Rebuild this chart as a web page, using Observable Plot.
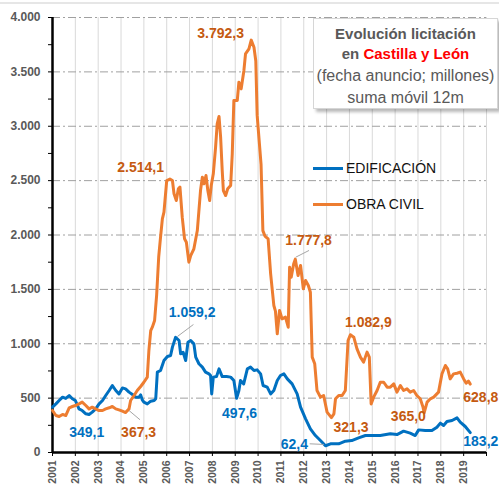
<!DOCTYPE html>
<html>
<head>
<meta charset="utf-8">
<script src="https://cdn.jsdelivr.net/npm/d3@7"></script>
<script src="https://cdn.jsdelivr.net/npm/@observablehq/plot@0.6"></script>
<style>
  html, body { margin: 0; padding: 0; background: #fff; }
  #wrap { position: relative; width: 499px; height: 485px; font-family: "Liberation Sans", Arial, sans-serif; }
  #topline { position: absolute; left: 0; top: 2px; width: 499px; height: 2px; background: #e6e6e6; }
  #titlebox { position: absolute; left: 313px; top: 18px; width: 183px; height: 89px; background: #fff;
    border: 1px solid #d6d6d6; box-shadow: 3px 3px 3px rgba(0,0,0,0.28); color: #595959; text-align: center; }
  #titlebox div { white-space: nowrap; }
  .t1 { font-weight: bold; font-size: 15px; height: 20px; line-height: 20px; }
  .t2 { font-size: 16px; height: 22px; line-height: 22px; }
  .red { color: #ff0000; }
  .leg { position: absolute; left: 313px; height: 20px; display: flex; align-items: center; font-size: 14px; color: #111; }
  .leg span.sw { display: inline-block; width: 30px; height: 3px; margin-right: 3px; }
</style>
</head>
<body>
<div id="wrap"></div>
<script>
// ---- data ----
const seriesNames = ["EDIFICACIÓN", "OBRA CIVIL"];
const seriesColors = ["#0070C0", "#ED7D31"];
const labelColors = ["#0070C0", "#C55A11"];

const edifYear = [2001.0,2001.15,2001.29,2001.44,2001.58,2001.73,2001.87,2002.0,2002.16,2002.3,2002.46,2002.6,2002.74,2002.89,
  2003.04,2003.19,2003.33,2003.48,2003.62,2003.77,2003.91,2004.06,2004.2,2004.35,2004.5,2004.64,2004.79,2004.86,2004.93,
  2005.0,2005.15,2005.3,2005.45,2005.52,2005.59,2005.73,2005.88,2006.03,2006.17,2006.25,2006.39,2006.54,2006.61,2006.72,
  2006.83,2006.93,2007.05,2007.19,2007.27,2007.41,2007.56,2007.7,2007.85,2007.92,2007.97,2008.04,2008.18,2008.29,2008.43,
  2008.62,2008.8,2008.94,2009.06,2009.16,2009.23,2009.37,2009.53,2009.67,2009.82,2009.96,2010.11,2010.22,2010.4,2010.55,
  2010.69,2010.84,2010.98,2011.13,2011.28,2011.49,2011.71,2011.86,2012.08,2012.29,2012.51,2012.73,2012.95,2013.17,2013.53,
  2013.82,2014.1,2014.4,2014.7,2014.98,2015.35,2015.79,2016.08,2016.37,2016.66,2016.88,2017.03,2017.32,2017.61,2017.83,
  2017.98,2018.12,2018.27,2018.49,2018.71,2018.85,2019.07,2019.29];
const edifValue = [417,447,478,509,497,524,494,478,401,386,356,349,371,401,
  447,478,524,570,616,570,539,594,585,555,533,509,509,530,484,
  463,447,472,478,494,739,754,846,883,892,969,1059,1030,907,922,
  846,1014,1030,999,877,816,785,739,723,708,539,693,698,769,698,
  698,693,662,498,570,662,631,769,785,754,760,723,616,601,539,
  570,662,708,723,677,631,539,417,310,218,156,110,62,80,80,
  104,110,135,156,156,156,172,165,196,178,156,208,202,202,233,
  270,248,285,294,319,279,239,183];

const obraYear = [2001.0,2001.15,2001.29,2001.44,2001.58,2001.73,2001.87,2002.0,2002.16,2002.3,2002.46,2002.6,2002.74,2002.89,
  2003.04,2003.19,2003.33,2003.48,2003.62,2003.77,2003.91,2004.06,2004.2,2004.35,2004.42,2004.57,2004.71,2004.86,2005.0,
  2005.15,2005.22,2005.3,2005.37,2005.47,2005.56,2005.65,2005.73,2005.81,2005.88,2006.0,2006.14,2006.25,2006.32,2006.42,
  2006.51,2006.58,2006.68,2006.78,2006.86,2006.97,2007.05,2007.19,2007.34,2007.48,2007.56,2007.63,2007.72,2007.8,2007.88,
  2007.95,2008.04,2008.14,2008.21,2008.29,2008.36,2008.43,2008.48,2008.58,2008.67,2008.8,2008.87,2008.94,2009.09,2009.16,
  2009.26,2009.38,2009.45,2009.6,2009.7,2009.82,2009.9,2009.96,2010.13,2010.21,2010.3,2010.44,2010.55,2010.69,2010.76,
  2010.84,2010.94,2011.05,2011.2,2011.32,2011.38,2011.45,2011.56,2011.63,2011.75,2011.86,2011.98,2012.08,2012.2,2012.29,
  2012.37,2012.48,2012.58,2012.73,2012.87,2013.02,2013.21,2013.32,2013.39,2013.53,2013.68,2013.82,2013.94,2014.04,2014.19,
  2014.33,2014.48,2014.62,2014.77,2014.87,2014.95,2015.06,2015.21,2015.35,2015.5,2015.65,2015.79,2015.94,2016.08,2016.23,
  2016.37,2016.52,2016.66,2016.81,2016.95,2017.1,2017.22,2017.27,2017.4,2017.54,2017.69,2017.9,2018.05,2018.2,2018.3,
  2018.41,2018.56,2018.71,2018.85,2019.0,2019.11,2019.21,2019.29];
const obraValue = [386,340,331,350,340,411,423,432,447,463,432,401,417,401,
  386,386,401,411,423,401,392,380,367,401,478,524,570,607,646,
  693,938,1120,1152,1214,1450,1800,1980,2149,2210,2501,2514,2501,2379,2317,
  2425,2440,2164,1965,1934,1750,1811,1873,2041,2409,2532,2471,2547,2409,2317,
  2455,2563,2808,3022,3090,2900,2593,2409,2363,2425,2455,2747,3237,3237,3405,
  3344,3513,3666,3712,3792,3727,3600,3100,2650,2040,1990,1965,1643,1352,1300,
  1091,1306,1229,1245,1152,1704,1612,1735,1778,1627,1720,1505,1582,1536,1474,
  877,816,570,509,524,371,321,355,494,524,524,570,1030,1083,1060,
  953,877,831,923,877,447,509,570,646,646,601,601,631,555,616,
  570,585,555,570,524,494,417,365,463,494,509,555,723,800,769,
  677,723,729,739,677,637,656,629];

// value labels (text, series index, anchor year, anchor value)
const labelText   = ["2.514,1","3.792,3","1.777,8","1.059,2","349,1","367,3","497,6","62,4","321,3","1.082,9","365,0","628,8","183,2"];
const labelSeries = [1,1,1,0,0,1,0,0,1,1,1,1,0];
const labelYear   = [2004.86,2008.36,2012.21,2007.11,2002.5,2004.77,2009.19,2011.59,2014.07,2014.83,2016.58,2019.75,2019.75];
const labelValue  = [2621,3853,1949,1287,184,184,359,69,230,1195,331,506,101];

// leader lines (year1, value1, year2, value2)
const leaderYear1  = [2011.65, 2006.47, 2004.35, 2012.26];
const leaderValue1 = [1796, 1067, 386, 80];
const leaderYear2  = [2012.23, 2007.17, 2004.83, 2012.88];
const leaderValue2 = [1858, 1177, 301, 74];

const yearTicks = d3.range(2001, 2021);
const yMajor = d3.range(0, 4001, 500);
const yMinor = d3.range(0, 4001, 250);

// ---- build tables ----
const edif = edifYear.map((x, i) => ({x, v: edifValue[i]}));
const obra = obraYear.map((x, i) => ({x, v: obraValue[i]}));
const labels = labelText.map((t, i) => ({t, s: labelSeries[i], x: labelYear[i], v: labelValue[i]}));
const leaders = leaderYear1.map((x1, i) => ({x1, y1: leaderValue1[i], x2: leaderYear2[i], y2: leaderValue2[i]}));
const fmt = v => v.toLocaleString("de-DE");

const chart = Plot.plot({
  width: 499, height: 485,
  marginLeft: 52, marginRight: 13, marginTop: 17, marginBottom: 33,
  x: {domain: [2001, 2020]},
  y: {domain: [0, 4000]},
  style: {fontFamily: "'Liberation Sans', Arial, sans-serif", background: "transparent", overflow: "visible"},
  marks: [
    Plot.gridX(yearTicks, {stroke: "#d9d9d9", strokeOpacity: 1, strokeWidth: 1}),
    Plot.gridY(yMajor.filter(d => d > 0), {stroke: "#a0a0a0", strokeOpacity: 1, strokeDasharray: "8,3,2,3", strokeWidth: 1}),
    Plot.axisY(yMinor, {tickSize: 4, tickPadding: 8, stroke: "#000", tickFormat: d => d % 500 === 0 ? fmt(d) : "",
      fill: "#595959", fontWeight: "bold", fontSize: 12, label: null}),
    Plot.axisX(yearTicks, {tickSize: 4, tickPadding: 4, tickRotate: -90, stroke: "#000",
      tickFormat: d => d < 2020 ? String(d) : "", fill: "#595959", fontWeight: "bold", fontSize: 10.5, label: null}),
    Plot.ruleX([2001], {stroke: "#000", strokeWidth: 2.5}),
    Plot.ruleY([0], {stroke: "#000", strokeWidth: 2.5}),
    Plot.line(edif, {x: "x", y: "v", stroke: seriesColors[0], strokeWidth: 3, curve: "linear"}),
    Plot.line(obra, {x: "x", y: "v", stroke: seriesColors[1], strokeWidth: 3, curve: "linear"}),
    Plot.link(leaders, {x1: "x1", y1: "y1", x2: "x2", y2: "y2", stroke: "#a6a6a6", strokeWidth: 1}),
    Plot.text(labels, {x: "x", y: "v", text: "t", fill: d => labelColors[d.s], fontWeight: "bold", fontSize: 14})
  ]
});

const wrap = document.getElementById("wrap");
wrap.appendChild(chart);
const topLine = document.createElement("div"); topLine.id = "topline"; wrap.appendChild(topLine);

const box = document.createElement("div");
box.id = "titlebox";
box.innerHTML = '<div class="t1" style="margin-top:5px">Evolución licitación</div>' +
  '<div class="t1">en <span class="red">Castilla y León</span></div>' +
  '<div class="t2" style="margin-top:1px">(fecha anuncio; millones)</div>' +
  '<div class="t2">suma móvil 12m</div>';
wrap.appendChild(box);

seriesNames.forEach((n, i) => {
  const l = document.createElement("div");
  l.className = "leg";
  l.style.top = (158 + i * 36) + "px";
  l.innerHTML = '<span class="sw" style="background:' + seriesColors[i] + '"></span>' + n;
  wrap.appendChild(l);
});
</script>
</body>
</html>
